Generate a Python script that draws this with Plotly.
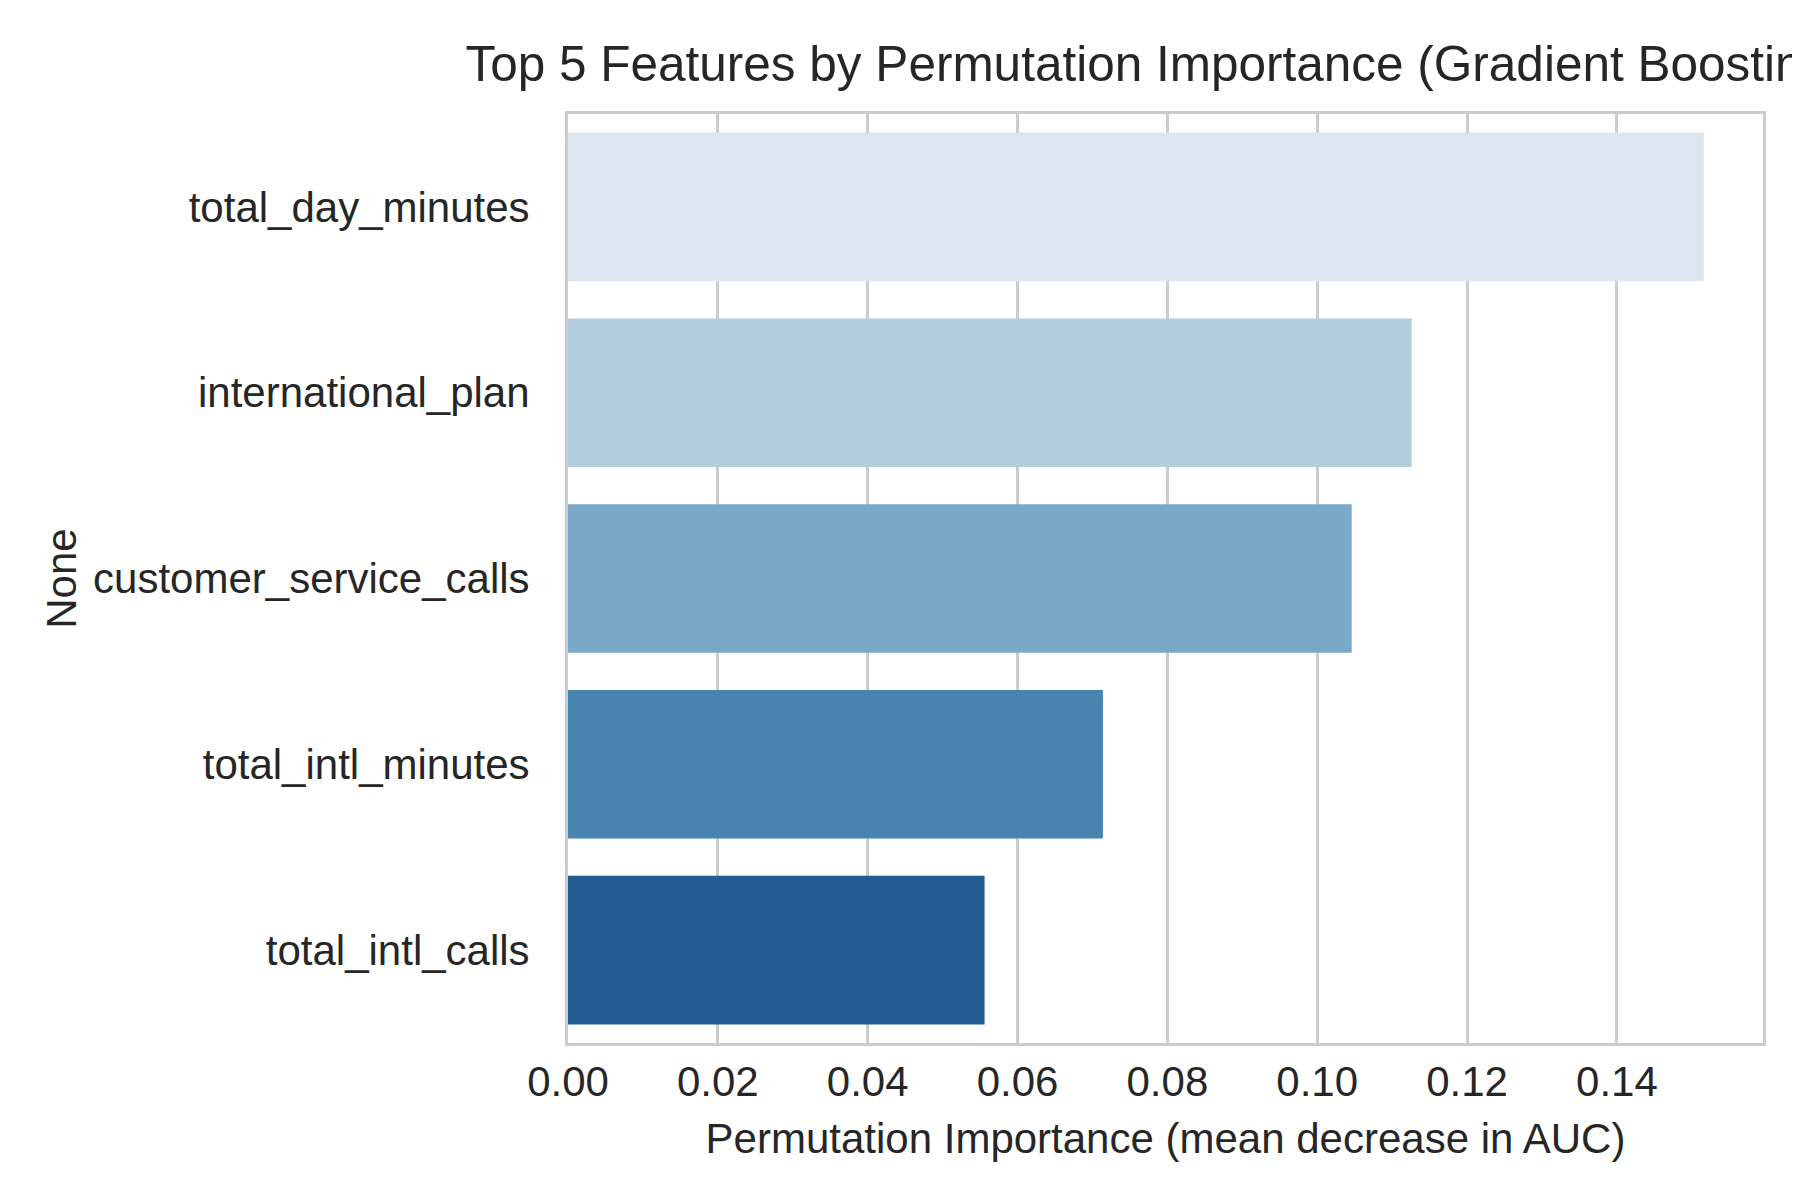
import plotly.graph_objects as go

features = ["total_day_minutes", "international_plan", "customer_service_calls",
            "total_intl_minutes", "total_intl_calls"]
importance = [0.1516, 0.1126, 0.1046, 0.0714, 0.0556]
bar_colors = ["#dbe6f1", "#b4cee0", "#79a9c7", "#4884b0", "#235c91"]
x_ticks = [0.00, 0.02, 0.04, 0.06, 0.08, 0.10, 0.12, 0.14]
x_tick_labels = ["0.00", "0.02", "0.04", "0.06", "0.08", "0.10", "0.12", "0.14"]

txt = "#262626"
grid = "#cccccc"
font = "Liberation Sans, Arial, sans-serif"

fig = go.Figure(go.Bar(
    x=importance, y=features, orientation="h",
    marker=dict(color=bar_colors, line=dict(width=0)),
    width=0.8,
))

fig.update_layout(
    width=1800, height=1200,
    margin=dict(l=560, r=45, t=106, b=165, autoexpand=False),
    paper_bgcolor="white", plot_bgcolor="white",
    font=dict(family=font, color=txt, size=42),
    showlegend=False,
    title=dict(text="Top 5 Features by Permutation Importance (Gradient Boosting)",
               x=1148 / 1800, xanchor="center", xref="container",
               y=1 - 56 / 1200, yanchor="middle", yref="container",
               font=dict(size=49.5, color=txt, family=font)),
)
fig.update_xaxes(
    range=[0, 0.1595], tickvals=x_ticks, ticktext=x_tick_labels,
    showgrid=True, gridcolor=grid, gridwidth=2.5,
    showline=True, linecolor=grid, linewidth=3, mirror=True,
    ticks="", zeroline=False, automargin=False,
    tickfont=dict(size=42, color=txt),
    title=dict(text="Permutation Importance (mean decrease in AUC)",
               font=dict(size=42, color=txt), standoff=20),
)
fig.update_yaxes(
    categoryorder="array", categoryarray=features,
    range=[4.5, -0.5],
    showgrid=False,
    showline=True, linecolor=grid, linewidth=3, mirror=True,
    ticks="", zeroline=False, ticklabelstandoff=27, automargin=False,
    tickfont=dict(size=42, color=txt),
    title=dict(text="None", font=dict(size=42, color=txt), standoff=4),
)

fig.write_html("out.html")
